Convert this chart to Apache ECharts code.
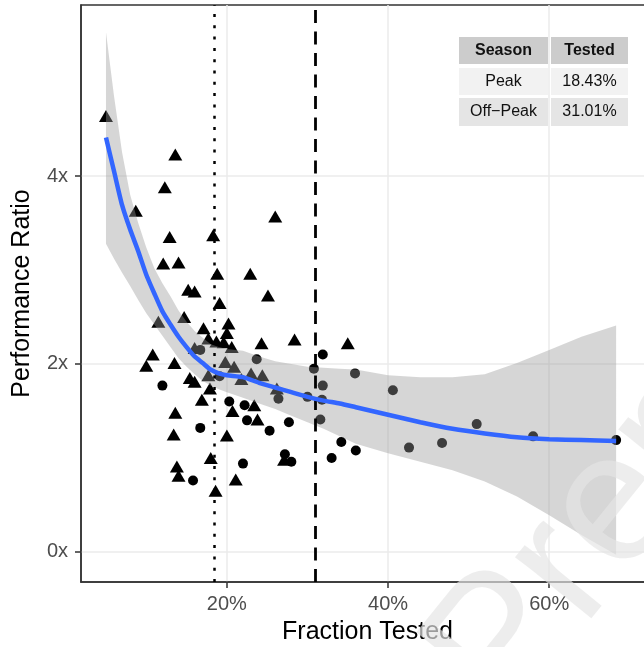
<!DOCTYPE html>
<html>
<head>
<meta charset="utf-8">
<script src="https://cdn.jsdelivr.net/npm/echarts@6/dist/echarts.min.js"></script>
<style>
html, body { margin: 0; padding: 0; background: #fff; }
#chart { width: 644px; height: 647px; }
</style>
</head>
<body>
<div id="chart"></div>
<script>
// Peak season (triangles): fraction tested (%) and performance ratio
var peakFraction = [5.0, 13.6, 12.3, 8.7, 26.0, 12.9, 18.3, 12.1, 14.0, 18.8, 22.9, 15.2, 16.0, 25.1, 19.1, 14.7, 11.5, 17.1,
	20.2, 20.0, 17.7, 18.7, 19.6, 20.6, 16.0, 24.3, 28.4, 35.0, 10.8, 10.0, 13.5, 19.8, 20.9, 17.7, 15.4, 16.0,
	23.0, 24.4, 21.8, 26.2, 17.9, 16.9, 13.6, 20.7, 23.4, 23.8, 13.4, 20.0, 18.0, 13.8, 14.0, 21.1, 18.6, 27.1];
var peakRatio = [4.64, 4.23, 3.88, 3.63, 3.57, 3.35, 3.37, 3.07, 3.08, 2.96, 2.96, 2.79, 2.77, 2.73, 2.65, 2.50, 2.45, 2.38,
	2.43, 2.33, 2.27, 2.24, 2.23, 2.18, 2.17, 2.22, 2.26, 2.22, 2.10, 1.98, 2.01, 2.02, 1.97, 1.88, 1.85, 1.81,
	1.90, 1.88, 1.84, 1.74, 1.74, 1.62, 1.48, 1.50, 1.56, 1.41, 1.25, 1.24, 1.00, 0.91, 0.81, 0.77, 0.65, 0.98];

// Off-peak season (circles)
var offPeakFraction = [12.0, 16.7, 19.1, 23.7, 20.3, 22.2, 22.5, 26.4, 25.3, 27.7, 16.7, 22.0, 15.8, 27.2, 28.0, 30.8,
	31.9, 30.0, 31.9, 31.8, 31.6, 34.2, 33.0, 35.9, 36.0, 40.6, 42.6, 46.7, 51.0, 58.0, 68.3];
var offPeakRatio = [1.77, 2.15, 1.87, 2.05, 1.60, 1.56, 1.40, 1.63, 1.29, 1.38, 1.32, 0.94, 0.76, 1.04, 0.96, 1.95,
	2.10, 1.65, 1.77, 1.62, 1.41, 1.17, 1.00, 1.90, 1.08, 1.72, 1.11, 1.16, 1.36, 1.23, 1.19];

// smoother (fit + confidence band)
var smoothX = [5, 6, 7, 8, 9, 10, 11, 12, 13, 14, 15, 16, 17, 18, 19, 20, 22, 24, 26, 28, 30, 32, 34, 36, 40, 44, 48, 52, 56, 60, 64, 68.3];
var smoothFit = [4.41, 4.05, 3.69, 3.43, 3.20, 2.95, 2.75, 2.56, 2.42, 2.29, 2.18, 2.08, 2.01, 1.94, 1.90, 1.88,
	1.86, 1.80, 1.75, 1.70, 1.65, 1.61, 1.58, 1.54, 1.46, 1.38, 1.31, 1.26, 1.22, 1.20, 1.19, 1.18];
var smoothUpper = [5.53, 4.85, 4.25, 3.80, 3.50, 3.24, 3.02, 2.86, 2.72, 2.57, 2.45, 2.35, 2.28, 2.21, 2.18, 2.16,
	2.14, 2.08, 2.03, 2.00, 1.97, 1.96, 1.95, 1.94, 1.88, 1.86, 1.86, 1.89, 2.01, 2.15, 2.29, 2.41];
var smoothLower = [3.28, 3.12, 2.97, 2.83, 2.68, 2.54, 2.42, 2.30, 2.18, 2.06, 1.97, 1.89, 1.82, 1.77, 1.73, 1.70,
	1.64, 1.58, 1.52, 1.45, 1.38, 1.31, 1.23, 1.15, 1.05, 0.96, 0.87, 0.75, 0.59, 0.39, 0.18, -0.03];

// table + reference lines
var seasons = ['Peak', 'Off\u2212Peak'];
var tested = [18.43, 31.01];

var xTicks = [20, 40, 60];
var yTicks = [0, 2, 4];

var FONT = '"Liberation Sans", Helvetica, Arial, sans-serif';

function zip(a, b) {
	var out = [];
	for (var i = 0; i < a.length; i++) out.push([a[i], b[i]]);
	return out;
}

var chart = echarts.init(document.getElementById('chart'));

// little table, top right
var tableGraphic = [];
var colX = [459, 551], colW = [89, 77];
var rowY = [37, 68, 98], rowH = [27, 27, 28];
var rowFill = ['#cccccc', '#f2f2f2', '#e5e5e5'];
var cells = [['Season', 'Tested']];
for (var r = 0; r < seasons.length; r++) {
	cells.push([seasons[r], tested[r].toFixed(2) + '%']);
}
for (var i = 0; i < cells.length; i++) {
	for (var c = 0; c < 2; c++) {
		tableGraphic.push({
			type: 'rect', z: 50, silent: true,
			shape: { x: colX[c], y: rowY[i], width: colW[c], height: rowH[i] },
			style: { fill: rowFill[i] }
		});
		tableGraphic.push({
			type: 'text', z: 51, silent: true,
			x: colX[c] + colW[c] / 2, y: rowY[i] + rowH[i] / 2,
			style: {
				text: cells[i][c], align: 'center', verticalAlign: 'middle', fill: '#111',
				font: (i === 0 ? 'bold ' : '') + '16px ' + FONT
			}
		});
	}
}

// faint watermark over the bottom right corner
tableGraphic.push({
	type: 'text', z: 100, silent: true,
	x: 466, y: 692, rotation: 51 * Math.PI / 180,
	style: { text: 'Preprint', align: 'left', verticalAlign: 'middle', fill: 'rgba(228,228,228,0.68)', font: '185px ' + FONT }
});

var option = {
	animation: false,
	backgroundColor: '#fff',
	textStyle: { fontFamily: FONT },
	grid: {
		left: 81, top: 5, right: -10, bottom: 65,
		show: true, borderColor: '#333', borderWidth: 1.5,
		outerBoundsMode: 'none'
	},
	xAxis: {
		type: 'value', min: 1.9, max: 73,
		name: 'Fraction Tested', nameLocation: 'middle', nameGap: 38,
		nameTextStyle: { fontSize: 25, color: '#000', fontFamily: FONT },
		axisLine: { show: true, onZero: false, lineStyle: { color: '#333', width: 1.5 } },
		axisTick: { show: true, customValues: xTicks, length: 6, lineStyle: { color: '#333', width: 1.5 } },
		axisLabel: {
			customValues: xTicks, margin: 12, fontSize: 20, color: '#4d4d4d', fontFamily: FONT,
			formatter: function (v) { return v + '%'; }
		},
		splitLine: { show: true, lineStyle: { color: '#ebebeb', width: 1.5 } }
	},
	yAxis: {
		type: 'value', min: -0.32, max: 5.82,
		name: 'Performance Ratio', nameLocation: 'middle', nameGap: 46,
		nameTextStyle: { fontSize: 25, color: '#000', fontFamily: FONT },
		axisLine: { show: true, onZero: false, lineStyle: { color: '#333', width: 1.5 } },
		axisTick: { show: true, customValues: yTicks, length: 6, lineStyle: { color: '#333', width: 1.5 } },
		axisLabel: {
			customValues: yTicks, margin: 13, fontSize: 20, color: '#4d4d4d', fontFamily: FONT,
			formatter: function (v) { return v + 'x'; }
		},
		splitLine: { show: true, lineStyle: { color: '#ebebeb', width: 1.5 } }
	},
	graphic: tableGraphic,
	series: [
		{
			name: 'Peak', type: 'scatter', z: 2,
			symbol: 'triangle', symbolSize: [14, 12],
			itemStyle: { color: '#000', opacity: 1 },
			data: zip(peakFraction, peakRatio)
		},
		{
			name: 'Off-Peak', type: 'scatter', z: 2,
			symbol: 'circle', symbolSize: 10,
			itemStyle: { color: '#000', opacity: 1 },
			data: zip(offPeakFraction, offPeakRatio)
		},
		{
			// confidence band, drawn over the points like ggplot does
			type: 'custom', z: 3, silent: true,
			data: [[smoothX[0], smoothUpper[0]]],
			renderItem: function (params, api) {
				var pts = [];
				for (var i = 0; i < smoothX.length; i++) pts.push(api.coord([smoothX[i], smoothUpper[i]]));
				for (var j = smoothX.length - 1; j >= 0; j--) pts.push(api.coord([smoothX[j], smoothLower[j]]));
				return {
					type: 'polygon',
					shape: { points: pts },
					style: { fill: 'rgba(153,153,153,0.4)' }
				};
			}
		},
		{
			// vertical reference lines
			type: 'line', z: 4, data: [],
			markLine: {
				silent: true, symbol: ['none', 'none'], label: { show: false },
				data: [
					{ xAxis: tested[0], lineStyle: { color: '#000', width: 2.5, type: [3, 8.3] } },
					{ xAxis: tested[1], lineStyle: { color: '#000', width: 2.8, type: [13, 8.5] } }
				]
			}
		},
		{
			name: 'fit', type: 'line', z: 5,
			showSymbol: false, smooth: 0.2,
			lineStyle: { color: '#3366FF', width: 4.5 },
			data: zip(smoothX, smoothFit)
		}
	]
};
chart.setOption(option);
</script>
</body>
</html>
